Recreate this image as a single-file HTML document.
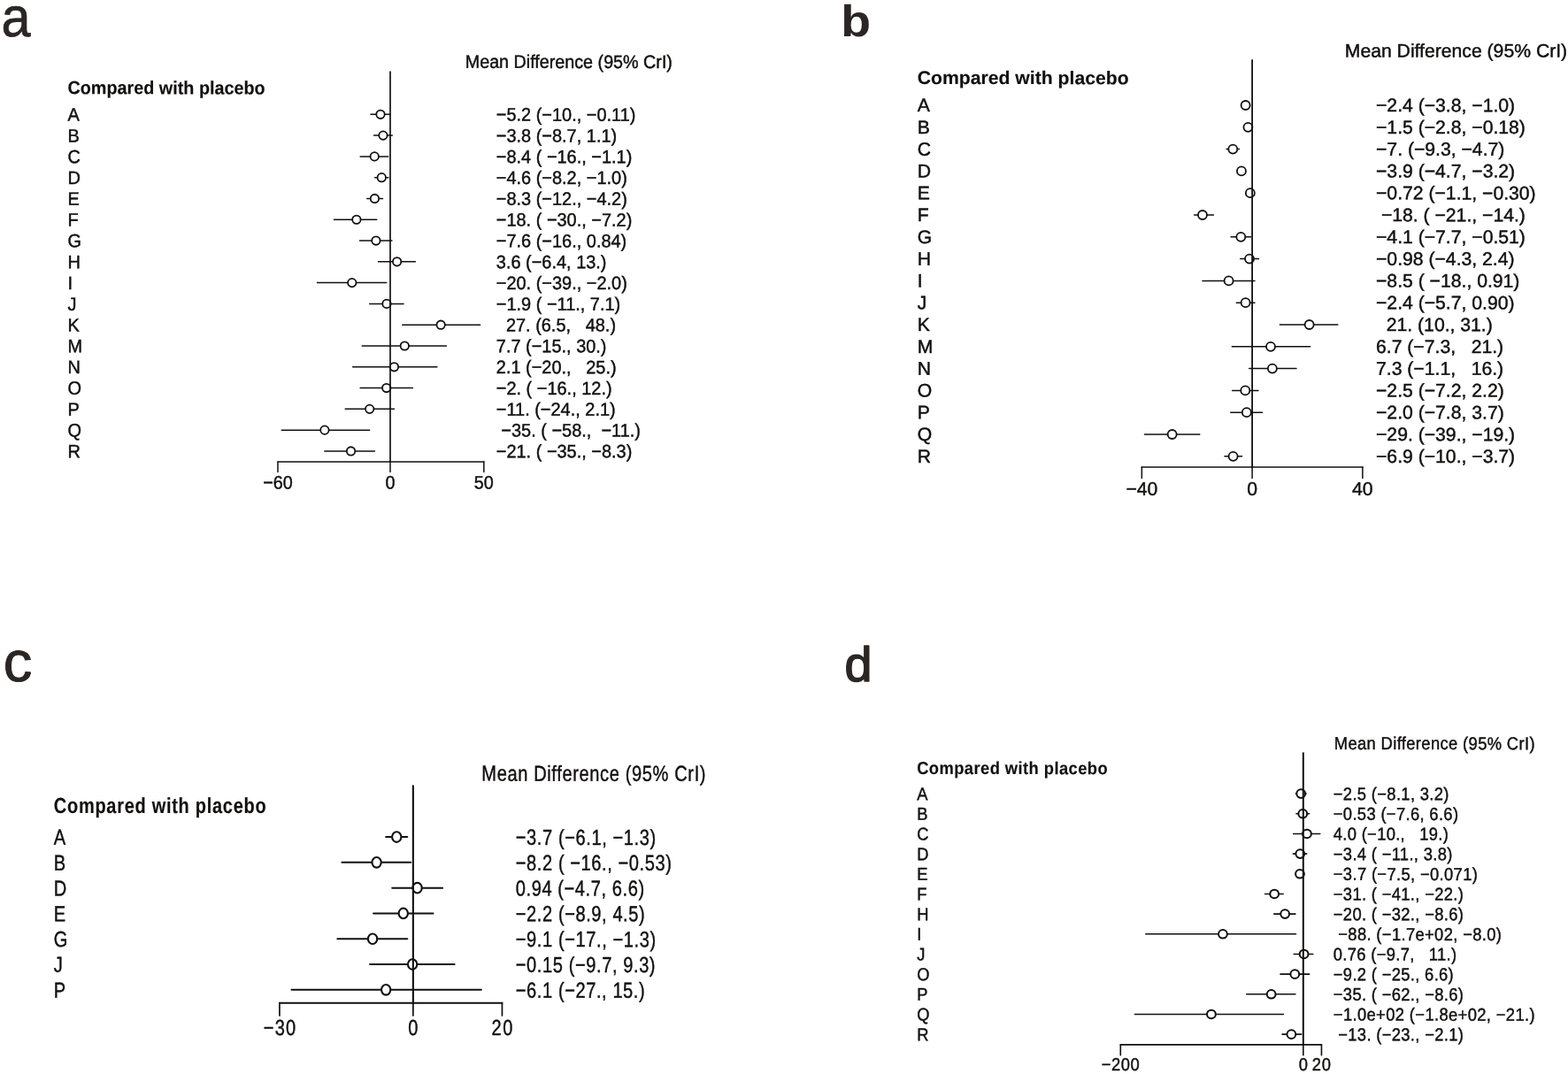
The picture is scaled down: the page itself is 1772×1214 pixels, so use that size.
<!DOCTYPE html>
<html lang="en"><head><meta charset="utf-8"><title>Forest plots</title>
<style>
html,body{margin:0;padding:0;background:#fff;}
body{width:1772px;height:1214px;overflow:hidden;}
svg{display:block;font-family:"Liberation Sans",sans-serif;}
text{white-space:pre;text-rendering:geometricPrecision;}
</style></head><body>
<svg width="1772" height="1214" viewBox="0 0 1772 1214">
<defs><filter id="bl" x="-20%" y="-20%" width="140%" height="140%"><feGaussianBlur stdDeviation="0.7"/></filter></defs>
<rect width="1772" height="1214" fill="#fff"/>
<text xml:space="preserve" transform="translate(525.75 76.80) rotate(0.05) scale(0.9440 1)" font-size="20.90" fill="#12100f" stroke="#12100f" stroke-width="0.45">Mean Difference (95% CrI)</text>
<text xml:space="preserve" transform="translate(76.45 106.30) rotate(0.05) scale(0.9474 1)" font-size="20.90" font-weight="bold" fill="#12100f" stroke="#12100f" stroke-width="0.15">Compared with placebo</text>
<text xml:space="preserve" transform="translate(76.60 136.60) rotate(0.05) scale(0.9545 1)" font-size="20.90" fill="#12100f" stroke="#12100f" stroke-width="0.45">A</text>
<text xml:space="preserve" transform="translate(560.80 136.60) rotate(0.05) scale(0.9545 1)" font-size="20.90" fill="#12100f" stroke="#12100f" stroke-width="0.45">−5.2 (−10., −0.11)</text>
<line x1="418.98" y1="129.30" x2="440.77" y2="129.30" stroke="#12100f" stroke-width="1.50" stroke-linecap="round"/>
<ellipse cx="429.99" cy="129.30" rx="4.70" ry="4.70" fill="#fff" stroke="#12100f" stroke-width="1.80"/>
<text xml:space="preserve" transform="translate(76.60 160.39) rotate(0.05) scale(0.9545 1)" font-size="20.90" fill="#12100f" stroke="#12100f" stroke-width="0.45">B</text>
<text xml:space="preserve" transform="translate(560.80 160.39) rotate(0.05) scale(0.9545 1)" font-size="20.90" fill="#12100f" stroke="#12100f" stroke-width="0.45">−3.8 (−8.7, 1.1)</text>
<line x1="422.58" y1="153.09" x2="443.33" y2="153.09" stroke="#12100f" stroke-width="1.50" stroke-linecap="round"/>
<ellipse cx="432.96" cy="153.09" rx="4.70" ry="4.70" fill="#fff" stroke="#12100f" stroke-width="1.80"/>
<text xml:space="preserve" transform="translate(76.60 184.18) rotate(0.05) scale(0.9545 1)" font-size="20.90" fill="#12100f" stroke="#12100f" stroke-width="0.45">C</text>
<text xml:space="preserve" transform="translate(560.80 184.18) rotate(0.05) scale(0.9545 1)" font-size="20.90" fill="#12100f" stroke="#12100f" stroke-width="0.45">−8.4 ( −16., −1.1)</text>
<line x1="407.13" y1="176.88" x2="438.67" y2="176.88" stroke="#12100f" stroke-width="1.50" stroke-linecap="round"/>
<ellipse cx="423.22" cy="176.88" rx="4.70" ry="4.70" fill="#fff" stroke="#12100f" stroke-width="1.80"/>
<text xml:space="preserve" transform="translate(76.60 207.97) rotate(0.05) scale(0.9545 1)" font-size="20.90" fill="#12100f" stroke="#12100f" stroke-width="0.45">D</text>
<text xml:space="preserve" transform="translate(560.80 207.97) rotate(0.05) scale(0.9545 1)" font-size="20.90" fill="#12100f" stroke="#12100f" stroke-width="0.45">−4.6 (−8.2, −1.0)</text>
<line x1="423.64" y1="200.67" x2="438.88" y2="200.67" stroke="#12100f" stroke-width="1.50" stroke-linecap="round"/>
<ellipse cx="431.26" cy="200.67" rx="4.70" ry="4.70" fill="#fff" stroke="#12100f" stroke-width="1.80"/>
<text xml:space="preserve" transform="translate(76.60 231.76) rotate(0.05) scale(0.9545 1)" font-size="20.90" fill="#12100f" stroke="#12100f" stroke-width="0.45">E</text>
<text xml:space="preserve" transform="translate(560.80 231.76) rotate(0.05) scale(0.9545 1)" font-size="20.90" fill="#12100f" stroke="#12100f" stroke-width="0.45">−8.3 (−12., −4.2)</text>
<line x1="414.75" y1="224.46" x2="432.53" y2="224.46" stroke="#12100f" stroke-width="1.50" stroke-linecap="round"/>
<ellipse cx="423.43" cy="224.46" rx="4.70" ry="4.70" fill="#fff" stroke="#12100f" stroke-width="1.80"/>
<text xml:space="preserve" transform="translate(76.60 255.55) rotate(0.05) scale(0.9545 1)" font-size="20.90" fill="#12100f" stroke="#12100f" stroke-width="0.45">F</text>
<text xml:space="preserve" transform="translate(560.80 255.55) rotate(0.05) scale(0.9545 1)" font-size="20.90" fill="#12100f" stroke="#12100f" stroke-width="0.45">−18. ( −30., −7.2)</text>
<line x1="377.49" y1="248.25" x2="425.76" y2="248.25" stroke="#12100f" stroke-width="1.50" stroke-linecap="round"/>
<ellipse cx="402.89" cy="248.25" rx="4.70" ry="4.70" fill="#fff" stroke="#12100f" stroke-width="1.80"/>
<text xml:space="preserve" transform="translate(76.60 279.34) rotate(0.05) scale(0.9545 1)" font-size="20.90" fill="#12100f" stroke="#12100f" stroke-width="0.45">G</text>
<text xml:space="preserve" transform="translate(560.80 279.34) rotate(0.05) scale(0.9545 1)" font-size="20.90" fill="#12100f" stroke="#12100f" stroke-width="0.45">−7.6 (−16., 0.84)</text>
<line x1="406.49" y1="272.04" x2="442.91" y2="272.04" stroke="#12100f" stroke-width="1.50" stroke-linecap="round"/>
<ellipse cx="424.91" cy="272.04" rx="4.70" ry="4.70" fill="#fff" stroke="#12100f" stroke-width="1.80"/>
<text xml:space="preserve" transform="translate(76.60 303.13) rotate(0.05) scale(0.9545 1)" font-size="20.90" fill="#12100f" stroke="#12100f" stroke-width="0.45">H</text>
<text xml:space="preserve" transform="translate(560.80 303.13) rotate(0.05) scale(0.9545 1)" font-size="20.90" fill="#12100f" stroke="#12100f" stroke-width="0.45">3.6 (−6.4, 13.)</text>
<line x1="427.45" y1="295.83" x2="469.37" y2="295.83" stroke="#12100f" stroke-width="1.50" stroke-linecap="round"/>
<ellipse cx="448.62" cy="295.83" rx="4.70" ry="4.70" fill="#fff" stroke="#12100f" stroke-width="1.80"/>
<text xml:space="preserve" transform="translate(76.60 326.92) rotate(0.05) scale(0.9545 1)" font-size="20.90" fill="#12100f" stroke="#12100f" stroke-width="0.45">I</text>
<text xml:space="preserve" transform="translate(560.80 326.92) rotate(0.05) scale(0.9545 1)" font-size="20.90" fill="#12100f" stroke="#12100f" stroke-width="0.45">−20. (−39., −2.0)</text>
<line x1="358.44" y1="319.62" x2="436.77" y2="319.62" stroke="#12100f" stroke-width="1.50" stroke-linecap="round"/>
<ellipse cx="397.81" cy="319.62" rx="4.70" ry="4.70" fill="#fff" stroke="#12100f" stroke-width="1.80"/>
<text xml:space="preserve" transform="translate(76.60 350.71) rotate(0.05) scale(0.9545 1)" font-size="20.90" fill="#12100f" stroke="#12100f" stroke-width="0.45">J</text>
<text xml:space="preserve" transform="translate(560.80 350.71) rotate(0.05) scale(0.9545 1)" font-size="20.90" fill="#12100f" stroke="#12100f" stroke-width="0.45">−1.9 ( −11., 7.1)</text>
<line x1="417.71" y1="343.41" x2="456.03" y2="343.41" stroke="#12100f" stroke-width="1.50" stroke-linecap="round"/>
<ellipse cx="436.98" cy="343.41" rx="4.70" ry="4.70" fill="#fff" stroke="#12100f" stroke-width="1.80"/>
<text xml:space="preserve" transform="translate(76.60 374.50) rotate(0.05) scale(0.9545 1)" font-size="20.90" fill="#12100f" stroke="#12100f" stroke-width="0.45">K</text>
<text xml:space="preserve" transform="translate(560.80 374.50) rotate(0.05) scale(0.9545 1)" font-size="20.90" fill="#12100f" stroke="#12100f" stroke-width="0.45">  27. (6.5,   48.)</text>
<line x1="454.76" y1="367.20" x2="542.62" y2="367.20" stroke="#12100f" stroke-width="1.50" stroke-linecap="round"/>
<ellipse cx="498.16" cy="367.20" rx="4.70" ry="4.70" fill="#fff" stroke="#12100f" stroke-width="1.80"/>
<text xml:space="preserve" transform="translate(76.60 398.29) rotate(0.05) scale(0.9545 1)" font-size="20.90" fill="#12100f" stroke="#12100f" stroke-width="0.45">M</text>
<text xml:space="preserve" transform="translate(560.80 398.29) rotate(0.05) scale(0.9545 1)" font-size="20.90" fill="#12100f" stroke="#12100f" stroke-width="0.45">7.7 (−15., 30.)</text>
<line x1="409.25" y1="390.99" x2="504.51" y2="390.99" stroke="#12100f" stroke-width="1.50" stroke-linecap="round"/>
<ellipse cx="457.30" cy="390.99" rx="4.70" ry="4.70" fill="#fff" stroke="#12100f" stroke-width="1.80"/>
<text xml:space="preserve" transform="translate(76.60 422.08) rotate(0.05) scale(0.9545 1)" font-size="20.90" fill="#12100f" stroke="#12100f" stroke-width="0.45">N</text>
<text xml:space="preserve" transform="translate(560.80 422.08) rotate(0.05) scale(0.9545 1)" font-size="20.90" fill="#12100f" stroke="#12100f" stroke-width="0.45">2.1 (−20.,   25.)</text>
<line x1="398.66" y1="414.78" x2="493.93" y2="414.78" stroke="#12100f" stroke-width="1.50" stroke-linecap="round"/>
<ellipse cx="445.45" cy="414.78" rx="4.70" ry="4.70" fill="#fff" stroke="#12100f" stroke-width="1.80"/>
<text xml:space="preserve" transform="translate(76.60 445.87) rotate(0.05) scale(0.9545 1)" font-size="20.90" fill="#12100f" stroke="#12100f" stroke-width="0.45">O</text>
<text xml:space="preserve" transform="translate(560.80 445.87) rotate(0.05) scale(0.9545 1)" font-size="20.90" fill="#12100f" stroke="#12100f" stroke-width="0.45">−2. ( −16., 12.)</text>
<line x1="407.13" y1="438.57" x2="466.40" y2="438.57" stroke="#12100f" stroke-width="1.50" stroke-linecap="round"/>
<ellipse cx="436.77" cy="438.57" rx="4.70" ry="4.70" fill="#fff" stroke="#12100f" stroke-width="1.80"/>
<text xml:space="preserve" transform="translate(76.60 469.66) rotate(0.05) scale(0.9545 1)" font-size="20.90" fill="#12100f" stroke="#12100f" stroke-width="0.45">P</text>
<text xml:space="preserve" transform="translate(560.80 469.66) rotate(0.05) scale(0.9545 1)" font-size="20.90" fill="#12100f" stroke="#12100f" stroke-width="0.45">−11. (−24., 2.1)</text>
<line x1="390.19" y1="462.36" x2="445.45" y2="462.36" stroke="#12100f" stroke-width="1.50" stroke-linecap="round"/>
<ellipse cx="417.71" cy="462.36" rx="4.70" ry="4.70" fill="#fff" stroke="#12100f" stroke-width="1.80"/>
<text xml:space="preserve" transform="translate(76.60 493.45) rotate(0.05) scale(0.9545 1)" font-size="20.90" fill="#12100f" stroke="#12100f" stroke-width="0.45">Q</text>
<text xml:space="preserve" transform="translate(560.80 493.45) rotate(0.05) scale(0.9545 1)" font-size="20.90" fill="#12100f" stroke="#12100f" stroke-width="0.45"> −35. ( −58.,  −11.)</text>
<line x1="318.21" y1="486.15" x2="417.71" y2="486.15" stroke="#12100f" stroke-width="1.50" stroke-linecap="round"/>
<ellipse cx="366.90" cy="486.15" rx="4.70" ry="4.70" fill="#fff" stroke="#12100f" stroke-width="1.80"/>
<text xml:space="preserve" transform="translate(76.60 517.24) rotate(0.05) scale(0.9545 1)" font-size="20.90" fill="#12100f" stroke="#12100f" stroke-width="0.45">R</text>
<text xml:space="preserve" transform="translate(560.80 517.24) rotate(0.05) scale(0.9545 1)" font-size="20.90" fill="#12100f" stroke="#12100f" stroke-width="0.45">−21. ( −35., −8.3)</text>
<line x1="366.90" y1="509.94" x2="423.43" y2="509.94" stroke="#12100f" stroke-width="1.50" stroke-linecap="round"/>
<ellipse cx="396.54" cy="509.94" rx="4.70" ry="4.70" fill="#fff" stroke="#12100f" stroke-width="1.80"/>
<line x1="313.98" y1="522.00" x2="546.85" y2="522.00" stroke="#12100f" stroke-width="1.50" stroke-linecap="round"/>
<line x1="313.98" y1="522.00" x2="313.98" y2="533.50" stroke="#12100f" stroke-width="1.50" stroke-linecap="round"/>
<text xml:space="preserve" transform="translate(313.98 552.50) rotate(0.05) scale(0.9474 1)" font-size="20.90" text-anchor="middle" fill="#12100f" stroke="#12100f" stroke-width="0.45">−60</text>
<line x1="441.00" y1="522.00" x2="441.00" y2="533.50" stroke="#12100f" stroke-width="1.50" stroke-linecap="round"/>
<text xml:space="preserve" transform="translate(441.00 552.50) rotate(0.05) scale(0.9474 1)" font-size="20.90" text-anchor="middle" fill="#12100f" stroke="#12100f" stroke-width="0.45">0</text>
<line x1="546.85" y1="522.00" x2="546.85" y2="533.50" stroke="#12100f" stroke-width="1.50" stroke-linecap="round"/>
<text xml:space="preserve" transform="translate(546.85 552.50) rotate(0.05) scale(0.9474 1)" font-size="20.90" text-anchor="middle" fill="#12100f" stroke="#12100f" stroke-width="0.45">50</text>
<line x1="441.00" y1="81.00" x2="441.00" y2="522.00" stroke="#12100f" stroke-width="1.70" stroke-linecap="round"/>
<text xml:space="preserve" transform="translate(1519.75 64.40) rotate(0.05) scale(1.0081 1)" font-size="21.00" fill="#12100f" stroke="#12100f" stroke-width="0.45">Mean Difference (95% CrI)</text>
<text xml:space="preserve" transform="translate(1036.80 95.00) rotate(0.05) scale(1.0081 1)" font-size="21.00" font-weight="bold" fill="#12100f" stroke="#12100f" stroke-width="0.15">Compared with placebo</text>
<text xml:space="preserve" transform="translate(1036.80 126.10) rotate(0.05) scale(1.0081 1)" font-size="21.00" fill="#12100f" stroke="#12100f" stroke-width="0.45">A</text>
<text xml:space="preserve" transform="translate(1555.00 126.10) rotate(0.05) scale(1.0081 1)" font-size="21.00" fill="#12100f" stroke="#12100f" stroke-width="0.45">−2.4 (−3.8, −1.0)</text>
<line x1="1403.25" y1="119.00" x2="1411.98" y2="119.00" stroke="#12100f" stroke-width="1.50" stroke-linecap="round"/>
<ellipse cx="1407.61" cy="119.00" rx="5.00" ry="5.00" fill="#fff" stroke="#12100f" stroke-width="1.80"/>
<text xml:space="preserve" transform="translate(1036.80 150.90) rotate(0.05) scale(1.0081 1)" font-size="21.00" fill="#12100f" stroke="#12100f" stroke-width="0.45">B</text>
<text xml:space="preserve" transform="translate(1555.00 150.90) rotate(0.05) scale(1.0081 1)" font-size="21.00" fill="#12100f" stroke="#12100f" stroke-width="0.45">−1.5 (−2.8, −0.18)</text>
<line x1="1406.37" y1="143.80" x2="1414.54" y2="143.80" stroke="#12100f" stroke-width="1.50" stroke-linecap="round"/>
<ellipse cx="1410.42" cy="143.80" rx="5.00" ry="5.00" fill="#fff" stroke="#12100f" stroke-width="1.80"/>
<text xml:space="preserve" transform="translate(1036.80 175.70) rotate(0.05) scale(1.0081 1)" font-size="21.00" fill="#12100f" stroke="#12100f" stroke-width="0.45">C</text>
<text xml:space="preserve" transform="translate(1555.00 175.70) rotate(0.05) scale(1.0081 1)" font-size="21.00" fill="#12100f" stroke="#12100f" stroke-width="0.45">−7. (−9.3, −4.7)</text>
<line x1="1386.09" y1="168.60" x2="1400.44" y2="168.60" stroke="#12100f" stroke-width="1.50" stroke-linecap="round"/>
<ellipse cx="1393.27" cy="168.60" rx="5.00" ry="5.00" fill="#fff" stroke="#12100f" stroke-width="1.80"/>
<text xml:space="preserve" transform="translate(1036.80 200.50) rotate(0.05) scale(1.0081 1)" font-size="21.00" fill="#12100f" stroke="#12100f" stroke-width="0.45">D</text>
<text xml:space="preserve" transform="translate(1555.00 200.50) rotate(0.05) scale(1.0081 1)" font-size="21.00" fill="#12100f" stroke="#12100f" stroke-width="0.45">−3.9 (−4.7, −3.2)</text>
<line x1="1400.44" y1="193.40" x2="1405.12" y2="193.40" stroke="#12100f" stroke-width="1.50" stroke-linecap="round"/>
<ellipse cx="1402.94" cy="193.40" rx="5.00" ry="5.00" fill="#fff" stroke="#12100f" stroke-width="1.80"/>
<text xml:space="preserve" transform="translate(1036.80 225.30) rotate(0.05) scale(1.0081 1)" font-size="21.00" fill="#12100f" stroke="#12100f" stroke-width="0.45">E</text>
<text xml:space="preserve" transform="translate(1555.00 225.30) rotate(0.05) scale(1.0081 1)" font-size="21.00" fill="#12100f" stroke="#12100f" stroke-width="0.45">−0.72 (−1.1, −0.30)</text>
<line x1="1411.67" y1="218.20" x2="1414.16" y2="218.20" stroke="#12100f" stroke-width="1.50" stroke-linecap="round"/>
<ellipse cx="1412.85" cy="218.20" rx="5.00" ry="5.00" fill="#fff" stroke="#12100f" stroke-width="1.80"/>
<text xml:space="preserve" transform="translate(1036.80 250.10) rotate(0.05) scale(1.0081 1)" font-size="21.00" fill="#12100f" stroke="#12100f" stroke-width="0.45">F</text>
<text xml:space="preserve" transform="translate(1555.00 250.10) rotate(0.05) scale(1.0081 1)" font-size="21.00" fill="#12100f" stroke="#12100f" stroke-width="0.45"> −18. ( −21., −14.)</text>
<line x1="1349.60" y1="243.00" x2="1371.43" y2="243.00" stroke="#12100f" stroke-width="1.50" stroke-linecap="round"/>
<ellipse cx="1358.96" cy="243.00" rx="5.00" ry="5.00" fill="#fff" stroke="#12100f" stroke-width="1.80"/>
<text xml:space="preserve" transform="translate(1036.80 274.90) rotate(0.05) scale(1.0081 1)" font-size="21.00" fill="#12100f" stroke="#12100f" stroke-width="0.45">G</text>
<text xml:space="preserve" transform="translate(1555.00 274.90) rotate(0.05) scale(1.0081 1)" font-size="21.00" fill="#12100f" stroke="#12100f" stroke-width="0.45">−4.1 (−7.7, −0.51)</text>
<line x1="1391.08" y1="267.80" x2="1413.51" y2="267.80" stroke="#12100f" stroke-width="1.50" stroke-linecap="round"/>
<ellipse cx="1402.31" cy="267.80" rx="5.00" ry="5.00" fill="#fff" stroke="#12100f" stroke-width="1.80"/>
<text xml:space="preserve" transform="translate(1036.80 299.70) rotate(0.05) scale(1.0081 1)" font-size="21.00" fill="#12100f" stroke="#12100f" stroke-width="0.45">H</text>
<text xml:space="preserve" transform="translate(1555.00 299.70) rotate(0.05) scale(1.0081 1)" font-size="21.00" fill="#12100f" stroke="#12100f" stroke-width="0.45">−0.98 (−4.3, 2.4)</text>
<line x1="1401.69" y1="292.60" x2="1422.59" y2="292.60" stroke="#12100f" stroke-width="1.50" stroke-linecap="round"/>
<ellipse cx="1412.04" cy="292.60" rx="5.00" ry="5.00" fill="#fff" stroke="#12100f" stroke-width="1.80"/>
<text xml:space="preserve" transform="translate(1036.80 324.50) rotate(0.05) scale(1.0081 1)" font-size="21.00" fill="#12100f" stroke="#12100f" stroke-width="0.45">I</text>
<text xml:space="preserve" transform="translate(1555.00 324.50) rotate(0.05) scale(1.0081 1)" font-size="21.00" fill="#12100f" stroke="#12100f" stroke-width="0.45">−8.5 ( −18., 0.91)</text>
<line x1="1358.96" y1="317.40" x2="1417.94" y2="317.40" stroke="#12100f" stroke-width="1.50" stroke-linecap="round"/>
<ellipse cx="1388.59" cy="317.40" rx="5.00" ry="5.00" fill="#fff" stroke="#12100f" stroke-width="1.80"/>
<text xml:space="preserve" transform="translate(1036.80 349.30) rotate(0.05) scale(1.0081 1)" font-size="21.00" fill="#12100f" stroke="#12100f" stroke-width="0.45">J</text>
<text xml:space="preserve" transform="translate(1555.00 349.30) rotate(0.05) scale(1.0081 1)" font-size="21.00" fill="#12100f" stroke="#12100f" stroke-width="0.45">−2.4 (−5.7, 0.90)</text>
<line x1="1397.32" y1="342.20" x2="1417.91" y2="342.20" stroke="#12100f" stroke-width="1.50" stroke-linecap="round"/>
<ellipse cx="1407.61" cy="342.20" rx="5.00" ry="5.00" fill="#fff" stroke="#12100f" stroke-width="1.80"/>
<text xml:space="preserve" transform="translate(1036.80 374.10) rotate(0.05) scale(1.0081 1)" font-size="21.00" fill="#12100f" stroke="#12100f" stroke-width="0.45">K</text>
<text xml:space="preserve" transform="translate(1555.00 374.10) rotate(0.05) scale(1.0081 1)" font-size="21.00" fill="#12100f" stroke="#12100f" stroke-width="0.45">  21. (10., 31.)</text>
<line x1="1446.29" y1="367.00" x2="1511.79" y2="367.00" stroke="#12100f" stroke-width="1.50" stroke-linecap="round"/>
<ellipse cx="1479.66" cy="367.00" rx="5.00" ry="5.00" fill="#fff" stroke="#12100f" stroke-width="1.80"/>
<text xml:space="preserve" transform="translate(1036.80 398.90) rotate(0.05) scale(1.0081 1)" font-size="21.00" fill="#12100f" stroke="#12100f" stroke-width="0.45">M</text>
<text xml:space="preserve" transform="translate(1555.00 398.90) rotate(0.05) scale(1.0081 1)" font-size="21.00" fill="#12100f" stroke="#12100f" stroke-width="0.45">6.7 (−7.3,   21.)</text>
<line x1="1392.33" y1="391.80" x2="1480.60" y2="391.80" stroke="#12100f" stroke-width="1.50" stroke-linecap="round"/>
<ellipse cx="1436.00" cy="391.80" rx="5.00" ry="5.00" fill="#fff" stroke="#12100f" stroke-width="1.80"/>
<text xml:space="preserve" transform="translate(1036.80 423.70) rotate(0.05) scale(1.0081 1)" font-size="21.00" fill="#12100f" stroke="#12100f" stroke-width="0.45">N</text>
<text xml:space="preserve" transform="translate(1555.00 423.70) rotate(0.05) scale(1.0081 1)" font-size="21.00" fill="#12100f" stroke="#12100f" stroke-width="0.45">7.3 (−1.1,   16.)</text>
<line x1="1411.67" y1="416.60" x2="1465.00" y2="416.60" stroke="#12100f" stroke-width="1.50" stroke-linecap="round"/>
<ellipse cx="1437.87" cy="416.60" rx="5.00" ry="5.00" fill="#fff" stroke="#12100f" stroke-width="1.80"/>
<text xml:space="preserve" transform="translate(1036.80 448.50) rotate(0.05) scale(1.0081 1)" font-size="21.00" fill="#12100f" stroke="#12100f" stroke-width="0.45">O</text>
<text xml:space="preserve" transform="translate(1555.00 448.50) rotate(0.05) scale(1.0081 1)" font-size="21.00" fill="#12100f" stroke="#12100f" stroke-width="0.45">−2.5 (−7.2, 2.2)</text>
<line x1="1392.64" y1="441.40" x2="1421.96" y2="441.40" stroke="#12100f" stroke-width="1.50" stroke-linecap="round"/>
<ellipse cx="1407.30" cy="441.40" rx="5.00" ry="5.00" fill="#fff" stroke="#12100f" stroke-width="1.80"/>
<text xml:space="preserve" transform="translate(1036.80 473.30) rotate(0.05) scale(1.0081 1)" font-size="21.00" fill="#12100f" stroke="#12100f" stroke-width="0.45">P</text>
<text xml:space="preserve" transform="translate(1555.00 473.30) rotate(0.05) scale(1.0081 1)" font-size="21.00" fill="#12100f" stroke="#12100f" stroke-width="0.45">−2.0 (−7.8, 3.7)</text>
<line x1="1390.77" y1="466.20" x2="1426.64" y2="466.20" stroke="#12100f" stroke-width="1.50" stroke-linecap="round"/>
<ellipse cx="1408.86" cy="466.20" rx="5.00" ry="5.00" fill="#fff" stroke="#12100f" stroke-width="1.80"/>
<text xml:space="preserve" transform="translate(1036.80 498.10) rotate(0.05) scale(1.0081 1)" font-size="21.00" fill="#12100f" stroke="#12100f" stroke-width="0.45">Q</text>
<text xml:space="preserve" transform="translate(1555.00 498.10) rotate(0.05) scale(1.0081 1)" font-size="21.00" fill="#12100f" stroke="#12100f" stroke-width="0.45">−29. (−39., −19.)</text>
<line x1="1293.46" y1="491.00" x2="1355.84" y2="491.00" stroke="#12100f" stroke-width="1.50" stroke-linecap="round"/>
<ellipse cx="1324.65" cy="491.00" rx="5.00" ry="5.00" fill="#fff" stroke="#12100f" stroke-width="1.80"/>
<text xml:space="preserve" transform="translate(1036.80 522.90) rotate(0.05) scale(1.0081 1)" font-size="21.00" fill="#12100f" stroke="#12100f" stroke-width="0.45">R</text>
<text xml:space="preserve" transform="translate(1555.00 522.90) rotate(0.05) scale(1.0081 1)" font-size="21.00" fill="#12100f" stroke="#12100f" stroke-width="0.45">−6.9 (−10., −3.7)</text>
<line x1="1383.91" y1="515.80" x2="1403.56" y2="515.80" stroke="#12100f" stroke-width="1.50" stroke-linecap="round"/>
<ellipse cx="1393.58" cy="515.80" rx="5.00" ry="5.00" fill="#fff" stroke="#12100f" stroke-width="1.80"/>
<line x1="1290.34" y1="527.90" x2="1539.86" y2="527.90" stroke="#12100f" stroke-width="1.50" stroke-linecap="round"/>
<line x1="1290.34" y1="527.90" x2="1290.34" y2="540.50" stroke="#12100f" stroke-width="1.50" stroke-linecap="round"/>
<text xml:space="preserve" transform="translate(1290.34 559.80) rotate(0.05) scale(1.0081 1)" font-size="21.00" text-anchor="middle" fill="#12100f" stroke="#12100f" stroke-width="0.45">−40</text>
<line x1="1415.10" y1="527.90" x2="1415.10" y2="540.50" stroke="#12100f" stroke-width="1.50" stroke-linecap="round"/>
<text xml:space="preserve" transform="translate(1415.10 559.80) rotate(0.05) scale(1.0081 1)" font-size="21.00" text-anchor="middle" fill="#12100f" stroke="#12100f" stroke-width="0.45">0</text>
<line x1="1539.86" y1="527.90" x2="1539.86" y2="540.50" stroke="#12100f" stroke-width="1.50" stroke-linecap="round"/>
<text xml:space="preserve" transform="translate(1539.86 559.80) rotate(0.05) scale(1.0081 1)" font-size="21.00" text-anchor="middle" fill="#12100f" stroke="#12100f" stroke-width="0.45">40</text>
<line x1="1415.10" y1="67.90" x2="1415.10" y2="527.90" stroke="#12100f" stroke-width="1.80" stroke-linecap="round"/>
<text xml:space="preserve" transform="translate(544.30 882.60) rotate(0.05) scale(0.8150 1)" font-size="24.60" letter-spacing="0.777" fill="#12100f" stroke="#12100f" stroke-width="0.45">Mean Difference (95% CrI)</text>
<text xml:space="preserve" transform="translate(60.80 918.90) rotate(0.05) scale(0.8128 1)" font-size="24.60" font-weight="bold" letter-spacing="0.886" fill="#12100f" stroke="#12100f" stroke-width="0.15">Compared with placebo</text>
<text xml:space="preserve" transform="translate(60.80 954.85) rotate(0.05) scale(0.8154 1)" font-size="24.60" fill="#12100f" stroke="#12100f" stroke-width="0.45">A</text>
<text xml:space="preserve" transform="translate(582.80 954.85) rotate(0.05) scale(0.8154 1)" font-size="24.60" letter-spacing="0.728" fill="#12100f" stroke="#12100f" stroke-width="0.45">−3.7 (−6.1, −1.3)</text>
<line x1="436.17" y1="946.05" x2="460.31" y2="946.05" stroke="#12100f" stroke-width="2.00" stroke-linecap="round"/>
<ellipse cx="448.24" cy="946.05" rx="5.15" ry="5.80" fill="#fff" stroke="#12100f" stroke-width="2.10"/>
<text xml:space="preserve" transform="translate(60.80 983.65) rotate(0.05) scale(0.8154 1)" font-size="24.60" fill="#12100f" stroke="#12100f" stroke-width="0.45">B</text>
<text xml:space="preserve" transform="translate(582.80 983.65) rotate(0.05) scale(0.8154 1)" font-size="24.60" letter-spacing="0.720" fill="#12100f" stroke="#12100f" stroke-width="0.45">−8.2 ( −16., −0.53)</text>
<line x1="386.37" y1="974.85" x2="464.18" y2="974.85" stroke="#12100f" stroke-width="2.00" stroke-linecap="round"/>
<ellipse cx="425.60" cy="974.85" rx="5.15" ry="5.80" fill="#fff" stroke="#12100f" stroke-width="2.10"/>
<text xml:space="preserve" transform="translate(60.80 1012.45) rotate(0.05) scale(0.8154 1)" font-size="24.60" fill="#12100f" stroke="#12100f" stroke-width="0.45">D</text>
<text xml:space="preserve" transform="translate(582.80 1012.45) rotate(0.05) scale(0.8154 1)" font-size="24.60" letter-spacing="0.713" fill="#12100f" stroke="#12100f" stroke-width="0.45">0.94 (−4.7, 6.6)</text>
<line x1="443.21" y1="1003.65" x2="500.05" y2="1003.65" stroke="#12100f" stroke-width="2.00" stroke-linecap="round"/>
<ellipse cx="471.58" cy="1003.65" rx="5.15" ry="5.80" fill="#fff" stroke="#12100f" stroke-width="2.10"/>
<text xml:space="preserve" transform="translate(60.80 1041.25) rotate(0.05) scale(0.8154 1)" font-size="24.60" fill="#12100f" stroke="#12100f" stroke-width="0.45">E</text>
<text xml:space="preserve" transform="translate(582.80 1041.25) rotate(0.05) scale(0.8154 1)" font-size="24.60" letter-spacing="0.716" fill="#12100f" stroke="#12100f" stroke-width="0.45">−2.2 (−8.9, 4.5)</text>
<line x1="422.08" y1="1032.45" x2="489.49" y2="1032.45" stroke="#12100f" stroke-width="2.00" stroke-linecap="round"/>
<ellipse cx="455.78" cy="1032.45" rx="5.15" ry="5.80" fill="#fff" stroke="#12100f" stroke-width="2.10"/>
<text xml:space="preserve" transform="translate(60.80 1070.05) rotate(0.05) scale(0.8154 1)" font-size="24.60" fill="#12100f" stroke="#12100f" stroke-width="0.45">G</text>
<text xml:space="preserve" transform="translate(582.80 1070.05) rotate(0.05) scale(0.8154 1)" font-size="24.60" letter-spacing="0.728" fill="#12100f" stroke="#12100f" stroke-width="0.45">−9.1 (−17., −1.3)</text>
<line x1="381.34" y1="1061.25" x2="460.31" y2="1061.25" stroke="#12100f" stroke-width="2.00" stroke-linecap="round"/>
<ellipse cx="421.08" cy="1061.25" rx="5.15" ry="5.80" fill="#fff" stroke="#12100f" stroke-width="2.10"/>
<text xml:space="preserve" transform="translate(60.80 1098.85) rotate(0.05) scale(0.8154 1)" font-size="24.60" fill="#12100f" stroke="#12100f" stroke-width="0.45">J</text>
<text xml:space="preserve" transform="translate(582.80 1098.85) rotate(0.05) scale(0.8154 1)" font-size="24.60" letter-spacing="0.726" fill="#12100f" stroke="#12100f" stroke-width="0.45">−0.15 (−9.7, 9.3)</text>
<line x1="418.06" y1="1090.05" x2="513.63" y2="1090.05" stroke="#12100f" stroke-width="2.00" stroke-linecap="round"/>
<ellipse cx="466.10" cy="1090.05" rx="5.15" ry="5.80" fill="#fff" stroke="#12100f" stroke-width="2.10"/>
<text xml:space="preserve" transform="translate(60.80 1127.65) rotate(0.05) scale(0.8154 1)" font-size="24.60" fill="#12100f" stroke="#12100f" stroke-width="0.45">P</text>
<text xml:space="preserve" transform="translate(582.80 1127.65) rotate(0.05) scale(0.8154 1)" font-size="24.60" letter-spacing="0.716" fill="#12100f" stroke="#12100f" stroke-width="0.45">−6.1 (−27., 15.)</text>
<line x1="329.53" y1="1118.85" x2="543.81" y2="1118.85" stroke="#12100f" stroke-width="2.00" stroke-linecap="round"/>
<ellipse cx="436.17" cy="1118.85" rx="5.15" ry="5.80" fill="#fff" stroke="#12100f" stroke-width="2.10"/>
<line x1="315.95" y1="1133.70" x2="567.45" y2="1133.70" stroke="#12100f" stroke-width="2.00" stroke-linecap="round"/>
<line x1="315.95" y1="1133.70" x2="315.95" y2="1148.00" stroke="#12100f" stroke-width="1.70" stroke-linecap="round"/>
<text xml:space="preserve" transform="translate(316.49 1170.10) rotate(0.05) scale(0.8154 1)" font-size="24.60" text-anchor="middle" letter-spacing="1.332" fill="#12100f" stroke="#12100f" stroke-width="0.45">−30</text>
<line x1="466.85" y1="1133.70" x2="466.85" y2="1148.00" stroke="#12100f" stroke-width="1.70" stroke-linecap="round"/>
<text xml:space="preserve" transform="translate(466.85 1170.10) rotate(0.05) scale(0.8154 1)" font-size="24.60" text-anchor="middle" fill="#12100f" stroke="#12100f" stroke-width="0.45">0</text>
<line x1="567.45" y1="1133.70" x2="567.45" y2="1148.00" stroke="#12100f" stroke-width="1.70" stroke-linecap="round"/>
<text xml:space="preserve" transform="translate(568.16 1170.10) rotate(0.05) scale(0.8154 1)" font-size="24.60" text-anchor="middle" letter-spacing="1.747" fill="#12100f" stroke="#12100f" stroke-width="0.45">20</text>
<line x1="466.85" y1="888.40" x2="466.85" y2="1133.70" stroke="#12100f" stroke-width="2.10" stroke-linecap="round"/>
<text xml:space="preserve" transform="translate(1507.75 847.00) rotate(0.05) scale(0.9168 1)" font-size="20.00" letter-spacing="0.412" fill="#12100f" stroke="#12100f" stroke-width="0.45">Mean Difference (95% CrI)</text>
<text xml:space="preserve" transform="translate(1036.20 875.00) rotate(0.05) scale(0.9168 1)" font-size="20.00" font-weight="bold" letter-spacing="0.470" fill="#12100f" stroke="#12100f" stroke-width="0.15">Compared with placebo</text>
<text xml:space="preserve" transform="translate(1036.20 904.15) rotate(0.05) scale(0.9168 1)" font-size="20.00" fill="#12100f" stroke="#12100f" stroke-width="0.45">A</text>
<text xml:space="preserve" transform="translate(1506.80 904.15) rotate(0.05) scale(0.9168 1)" font-size="20.00" letter-spacing="0.380" fill="#12100f" stroke="#12100f" stroke-width="0.45">−2.5 (−8.1, 3.2)</text>
<line x1="1464.44" y1="897.10" x2="1476.10" y2="897.10" stroke="#12100f" stroke-width="1.60" stroke-linecap="round"/>
<ellipse cx="1470.22" cy="897.10" rx="4.90" ry="4.80" fill="#fff" stroke="#12100f" stroke-width="2.00"/>
<text xml:space="preserve" transform="translate(1036.20 926.82) rotate(0.05) scale(0.9168 1)" font-size="20.00" fill="#12100f" stroke="#12100f" stroke-width="0.45">B</text>
<text xml:space="preserve" transform="translate(1506.80 926.82) rotate(0.05) scale(0.9168 1)" font-size="20.00" letter-spacing="0.385" fill="#12100f" stroke="#12100f" stroke-width="0.45">−0.53 (−7.6, 6.6)</text>
<line x1="1464.95" y1="919.77" x2="1479.61" y2="919.77" stroke="#12100f" stroke-width="1.60" stroke-linecap="round"/>
<ellipse cx="1472.25" cy="919.77" rx="4.90" ry="4.80" fill="#fff" stroke="#12100f" stroke-width="2.00"/>
<text xml:space="preserve" transform="translate(1036.20 949.49) rotate(0.05) scale(0.9168 1)" font-size="20.00" fill="#12100f" stroke="#12100f" stroke-width="0.45">C</text>
<text xml:space="preserve" transform="translate(1506.80 949.49) rotate(0.05) scale(0.9168 1)" font-size="20.00" letter-spacing="0.355" fill="#12100f" stroke="#12100f" stroke-width="0.45">4.0 (−10.,   19.)</text>
<line x1="1461.65" y1="942.44" x2="1491.80" y2="942.44" stroke="#12100f" stroke-width="1.60" stroke-linecap="round"/>
<ellipse cx="1476.93" cy="942.44" rx="4.90" ry="4.80" fill="#fff" stroke="#12100f" stroke-width="2.00"/>
<text xml:space="preserve" transform="translate(1036.20 972.16) rotate(0.05) scale(0.9168 1)" font-size="20.00" fill="#12100f" stroke="#12100f" stroke-width="0.45">D</text>
<text xml:space="preserve" transform="translate(1506.80 972.16) rotate(0.05) scale(0.9168 1)" font-size="20.00" letter-spacing="0.367" fill="#12100f" stroke="#12100f" stroke-width="0.45">−3.4 ( −11., 3.8)</text>
<line x1="1461.44" y1="965.11" x2="1476.72" y2="965.11" stroke="#12100f" stroke-width="1.60" stroke-linecap="round"/>
<ellipse cx="1469.29" cy="965.11" rx="4.90" ry="4.80" fill="#fff" stroke="#12100f" stroke-width="2.00"/>
<text xml:space="preserve" transform="translate(1036.20 994.83) rotate(0.05) scale(0.9168 1)" font-size="20.00" fill="#12100f" stroke="#12100f" stroke-width="0.45">E</text>
<text xml:space="preserve" transform="translate(1506.80 994.83) rotate(0.05) scale(0.9168 1)" font-size="20.00" letter-spacing="0.395" fill="#12100f" stroke="#12100f" stroke-width="0.45">−3.7 (−7.5, −0.071)</text>
<line x1="1465.06" y1="987.78" x2="1472.73" y2="987.78" stroke="#12100f" stroke-width="1.60" stroke-linecap="round"/>
<ellipse cx="1468.98" cy="987.78" rx="4.90" ry="4.80" fill="#fff" stroke="#12100f" stroke-width="2.00"/>
<text xml:space="preserve" transform="translate(1036.20 1017.50) rotate(0.05) scale(0.9168 1)" font-size="20.00" fill="#12100f" stroke="#12100f" stroke-width="0.45">F</text>
<text xml:space="preserve" transform="translate(1506.80 1017.50) rotate(0.05) scale(0.9168 1)" font-size="20.00" letter-spacing="0.377" fill="#12100f" stroke="#12100f" stroke-width="0.45">−31. ( −41., −22.)</text>
<line x1="1429.64" y1="1010.45" x2="1450.09" y2="1010.45" stroke="#12100f" stroke-width="1.60" stroke-linecap="round"/>
<ellipse cx="1440.17" cy="1010.45" rx="4.90" ry="4.80" fill="#fff" stroke="#12100f" stroke-width="2.00"/>
<text xml:space="preserve" transform="translate(1036.20 1040.17) rotate(0.05) scale(0.9168 1)" font-size="20.00" fill="#12100f" stroke="#12100f" stroke-width="0.45">H</text>
<text xml:space="preserve" transform="translate(1506.80 1040.17) rotate(0.05) scale(0.9168 1)" font-size="20.00" letter-spacing="0.377" fill="#12100f" stroke="#12100f" stroke-width="0.45">−20. ( −32., −8.6)</text>
<line x1="1439.76" y1="1033.12" x2="1463.92" y2="1033.12" stroke="#12100f" stroke-width="1.60" stroke-linecap="round"/>
<ellipse cx="1452.15" cy="1033.12" rx="4.90" ry="4.80" fill="#fff" stroke="#12100f" stroke-width="2.00"/>
<text xml:space="preserve" transform="translate(1036.20 1062.84) rotate(0.05) scale(0.9168 1)" font-size="20.00" fill="#12100f" stroke="#12100f" stroke-width="0.45">I</text>
<text xml:space="preserve" transform="translate(1506.80 1062.84) rotate(0.05) scale(0.9168 1)" font-size="20.00" letter-spacing="0.395" fill="#12100f" stroke="#12100f" stroke-width="0.45"> −88. (−1.7e+02, −8.0)</text>
<line x1="1294.80" y1="1055.79" x2="1464.54" y2="1055.79" stroke="#12100f" stroke-width="1.60" stroke-linecap="round"/>
<ellipse cx="1381.94" cy="1055.79" rx="4.90" ry="4.80" fill="#fff" stroke="#12100f" stroke-width="2.00"/>
<text xml:space="preserve" transform="translate(1036.20 1085.51) rotate(0.05) scale(0.9168 1)" font-size="20.00" fill="#12100f" stroke="#12100f" stroke-width="0.45">J</text>
<text xml:space="preserve" transform="translate(1506.80 1085.51) rotate(0.05) scale(0.9168 1)" font-size="20.00" letter-spacing="0.357" fill="#12100f" stroke="#12100f" stroke-width="0.45">0.76 (−9.7,   11.)</text>
<line x1="1462.17" y1="1078.46" x2="1483.74" y2="1078.46" stroke="#12100f" stroke-width="1.60" stroke-linecap="round"/>
<ellipse cx="1473.58" cy="1078.46" rx="4.90" ry="4.80" fill="#fff" stroke="#12100f" stroke-width="2.00"/>
<text xml:space="preserve" transform="translate(1036.20 1108.18) rotate(0.05) scale(0.9168 1)" font-size="20.00" fill="#12100f" stroke="#12100f" stroke-width="0.45">O</text>
<text xml:space="preserve" transform="translate(1506.80 1108.18) rotate(0.05) scale(0.9168 1)" font-size="20.00" letter-spacing="0.371" fill="#12100f" stroke="#12100f" stroke-width="0.45">−9.2 ( −25., 6.6)</text>
<line x1="1446.99" y1="1101.13" x2="1479.61" y2="1101.13" stroke="#12100f" stroke-width="1.60" stroke-linecap="round"/>
<ellipse cx="1463.30" cy="1101.13" rx="4.90" ry="4.80" fill="#fff" stroke="#12100f" stroke-width="2.00"/>
<text xml:space="preserve" transform="translate(1036.20 1130.85) rotate(0.05) scale(0.9168 1)" font-size="20.00" fill="#12100f" stroke="#12100f" stroke-width="0.45">P</text>
<text xml:space="preserve" transform="translate(1506.80 1130.85) rotate(0.05) scale(0.9168 1)" font-size="20.00" letter-spacing="0.377" fill="#12100f" stroke="#12100f" stroke-width="0.45">−35. ( −62., −8.6)</text>
<line x1="1408.78" y1="1123.80" x2="1463.92" y2="1123.80" stroke="#12100f" stroke-width="1.60" stroke-linecap="round"/>
<ellipse cx="1436.66" cy="1123.80" rx="4.90" ry="4.80" fill="#fff" stroke="#12100f" stroke-width="2.00"/>
<text xml:space="preserve" transform="translate(1036.20 1153.52) rotate(0.05) scale(0.9168 1)" font-size="20.00" fill="#12100f" stroke="#12100f" stroke-width="0.45">Q</text>
<text xml:space="preserve" transform="translate(1506.80 1153.52) rotate(0.05) scale(0.9168 1)" font-size="20.00" letter-spacing="0.414" fill="#12100f" stroke="#12100f" stroke-width="0.45">−1.0e+02 (−1.8e+02, −21.)</text>
<line x1="1282.41" y1="1146.47" x2="1450.39" y2="1146.47" stroke="#12100f" stroke-width="1.60" stroke-linecap="round"/>
<ellipse cx="1368.93" cy="1146.47" rx="4.90" ry="4.80" fill="#fff" stroke="#12100f" stroke-width="2.00"/>
<text xml:space="preserve" transform="translate(1036.20 1176.19) rotate(0.05) scale(0.9168 1)" font-size="20.00" fill="#12100f" stroke="#12100f" stroke-width="0.45">R</text>
<text xml:space="preserve" transform="translate(1506.80 1176.19) rotate(0.05) scale(0.9168 1)" font-size="20.00" letter-spacing="0.377" fill="#12100f" stroke="#12100f" stroke-width="0.45"> −13. (−23., −2.1)</text>
<line x1="1449.05" y1="1169.14" x2="1470.63" y2="1169.14" stroke="#12100f" stroke-width="1.60" stroke-linecap="round"/>
<ellipse cx="1459.38" cy="1169.14" rx="4.90" ry="4.80" fill="#fff" stroke="#12100f" stroke-width="2.00"/>
<line x1="1266.30" y1="1180.90" x2="1493.45" y2="1180.90" stroke="#12100f" stroke-width="1.60" stroke-linecap="round"/>
<line x1="1266.30" y1="1180.90" x2="1266.30" y2="1192.80" stroke="#12100f" stroke-width="1.60" stroke-linecap="round"/>
<text xml:space="preserve" transform="translate(1266.59 1209.90) rotate(0.05) scale(0.9168 1)" font-size="20.00" text-anchor="middle" letter-spacing="0.626" fill="#12100f" stroke="#12100f" stroke-width="0.45">−200</text>
<line x1="1472.80" y1="1180.90" x2="1472.80" y2="1192.80" stroke="#12100f" stroke-width="1.60" stroke-linecap="round"/>
<text xml:space="preserve" transform="translate(1472.80 1209.90) rotate(0.05) scale(0.9168 1)" font-size="20.00" text-anchor="middle" fill="#12100f" stroke="#12100f" stroke-width="0.45">0</text>
<line x1="1493.45" y1="1180.90" x2="1493.45" y2="1192.80" stroke="#12100f" stroke-width="1.60" stroke-linecap="round"/>
<text xml:space="preserve" transform="translate(1493.87 1209.90) rotate(0.05) scale(0.9168 1)" font-size="20.00" text-anchor="middle" letter-spacing="0.927" fill="#12100f" stroke="#12100f" stroke-width="0.45">20</text>
<line x1="1472.80" y1="851.30" x2="1472.80" y2="1180.90" stroke="#12100f" stroke-width="2.00" stroke-linecap="round"/>
<text transform="translate(1.52 41.04) scale(0.5957 0.6297)" font-size="100" fill="#2b2725" stroke="#2b2725" stroke-width="1.142" stroke-linejoin="round" filter="url(#bl)">a</text>
<text transform="translate(950.35 40.91) scale(0.5537 0.5011)" font-size="100" font-weight="bold" fill="#2b2725" filter="url(#bl)">b</text>
<text transform="translate(3.63 770.47) scale(0.6517 0.6407)" font-size="100" fill="#2b2725" stroke="#2b2725" stroke-width="1.547" stroke-linejoin="round" filter="url(#bl)">c</text>
<text transform="translate(954.61 769.71) scale(0.5581 0.5515)" font-size="100" fill="#2b2725" stroke="#2b2725" stroke-width="2.704" stroke-linejoin="round" filter="url(#bl)">d</text>
</svg>
</body></html>
